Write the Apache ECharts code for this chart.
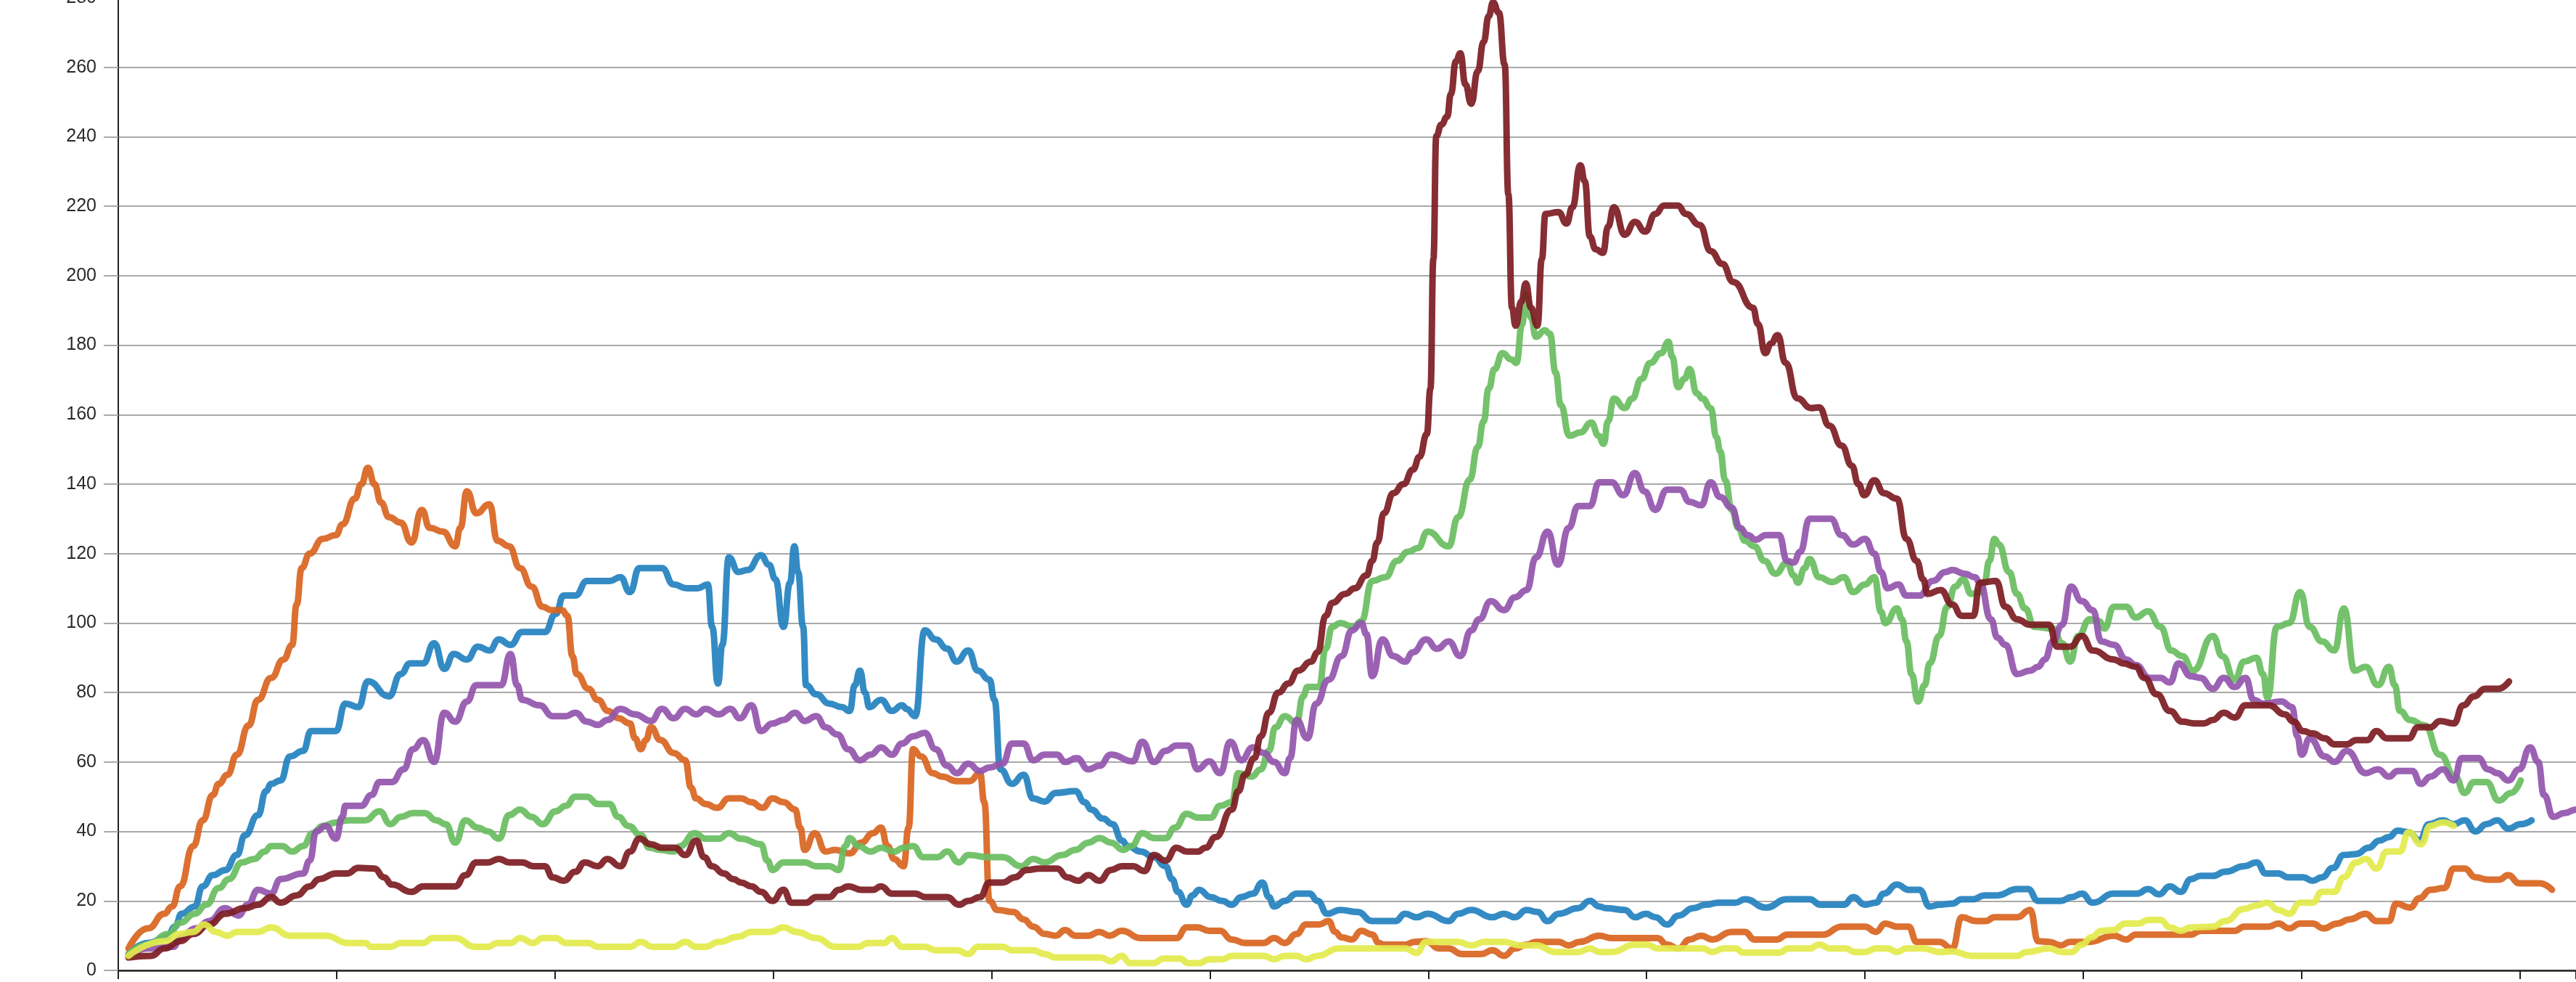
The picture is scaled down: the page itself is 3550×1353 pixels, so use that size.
<!DOCTYPE html>
<html>
<head>
<meta charset="utf-8">
<script src="https://cdn.jsdelivr.net/npm/echarts@6/dist/echarts.min.js"></script>
<style>
  html, body { margin: 0; padding: 0; background: #fff; }
  #chart { width: 3550px; height: 1353px; }
</style>
</head>
<body>
<div id="chart"></div>
<script>
// x = day, y = value; ticks every 30 days, y every 20
var xMax = 337.7;
var xStep = 30;
var yMax = 280;
var yStep = 20;

var orangeData = [[1.4,6.3],[4.1,12.1],[6.3,16.3],[7.4,18.4],[8.5,24.2],[10.3,35.8],[11.6,43.2],[13,50.5],[13.8,53.7],[15,56.3],[16.3,62.1],[17.9,70.5],[19.2,77.9],[21,84.2],[22.7,89.5],[23.9,93.7],[24.5,105.3],[25.2,115.8],[26.3,120],[28.1,124.2],[29.9,125.3],[30.8,128.4],[32.5,135.8],[33.4,140],[34.3,144.7],[35.2,140],[36.1,134.7],[37.2,130.5],[38.8,128.9],[40.3,123.2],[41.7,132.6],[42.8,127.4],[44.6,126.3],[46.3,122.1],[47,127.4],[47.9,137.9],[49.2,131.6],[51,134.2],[52.1,123.7],[53.7,122.1],[55.2,115.8],[56.8,110.5],[58.3,104.7],[59.5,103.7],[61,103.7],[61.7,102.1],[62.4,90.5],[63,85.3],[64.6,81.1],[65.9,77.9],[67.3,74.7],
  [68.7,72.6],[70.3,71.1],[71,66.8],[71.8,63.7],[72.5,66.3],[73.2,70],[74.5,66.3],[76.3,62.6],[77.9,60.5],[78.7,52.6],[79.4,49.5],[80.7,47.9],[82.3,46.8],[83.9,49.5],[85.6,49.5],[87,48.4],[88.5,46.8],[89.9,49.5],[91.4,48.4],[93,46.3],[93.7,41.1],[94.3,34.7],[95.7,39.5],[97.2,34.2],[98.5,34.7],[100.5,33.7],[102.1,36.8],[103.7,39.5],[104.8,41.1],[105.7,35.8],[106.6,32.1],[107.9,30],[108.6,41.1],[109.2,63.7],[110.3,61.6],[111.9,56.8],[113.2,55.8],[115.2,54.5],[117,54.5],[118.4,56.8],[119,48.4],[119.7,20],[120.8,17.4],[123,16.8],[124.4,14.7],[125.7,12.6],[127.3,10.5],[128.8,10],[130.1,11.6],[131.5,10],[133.3,10],[134.8,11.1],[136.2,10],
  [137.9,11.4],[140.5,9.3],[145.4,9.3],[146.8,12.4],[148.3,12.4],[149.9,11.4],[151.4,11.4],[153,8.9],[154.8,7.9],[157.4,7.9],[158.8,9.3],[160.3,7.9],[161.9,10.5],[163.2,13.2],[165,13.2],[166.3,14.2],[167.2,11.1],[168.1,9.5],[169.5,8.9],[170.8,11.4],[172.3,10.3],[173.2,7.9],[173.9,7.4],[176.8,7.4],[178.1,8.2],[179.7,8.4],[181.5,6.3],[182.8,6.3],[184.6,4.7],[187.3,4.7],[188.8,5.8],[190.4,4.2],[191.9,6.3],[193.5,7.4],[194.8,8.2],[197.9,8.2],[199.3,7.2],[200.8,8.2],[203.5,10],
  [205.2,9.3],[211.5,9.3],[212.8,7.4],[214.4,6.3],[215.9,8.9],[217.5,10],[219,8.9],[221.7,11.1],[223.5,11.1],[224.8,8.9],[227.9,8.9],[229.3,10.3],[234.2,10.3],[236.8,12.6],[240,12.6],[241.5,11.1],[242.8,13.5],[244.4,12.6],[246,12.6],[247.1,8.2],[250.2,8.2],[252,6.3],[253.3,15.3],[255.3,14.2],[256.6,14.2],[257.8,15.3],[260.9,15.3],[262.7,17.4],[263.8,8.4],[265.3,8.2],[266.9,7.2],[268.2,8.2],[270.7,8.2],
  [274.2,10],[275.9,8.9],[277.2,10.3],[284.8,10.3],[286.1,11.4],[290.8,11.4],[292.1,12.6],[295.5,12.6],[296.8,13.5],[298.3,12.1],[299.8,13.5],[301.5,13.5],[303,12.1],[304.9,13.5],[306.6,14.7],[308.8,16.3],[310.3,14.2],[312,14.2],[313,19.2],[314.9,18.1],[316.2,20.8],[317.7,23.2],[319.6,23.7],[320.9,29.3],[322.4,29.3],[323.9,26.8],[325.6,26.1],[327.1,26.1],[328.4,27.4],[329.9,25.1],[332.7,25.1],[334.4,23.2]];

var blueData = [[1.4,4.7],[4.1,7.9],[6.7,9.5],[7.8,12.6],[8.7,16.3],[10.5,18.4],[11.6,24.2],[13,27.4],[14.7,28.9],[16.3,33.2],[17.4,38.9],[19.2,44.7],[20.3,51.6],[21,53.7],[22.3,54.7],[23.6,61.6],[25.4,63.2],[26.5,68.9],[29.9,68.9],[31.2,76.8],[33,75.8],[34.3,83.2],[37.2,78.9],[38.8,85.3],[40.1,88.4],[41.9,88.4],[43.4,94.2],[44.8,86.8],[46.1,91.1],[47.9,89.5],[49.4,93.2],[51,92.1],[52.3,95.3],[53.9,93.7],[55.5,97.4],[58.6,97.4],[60.1,102.6],[61.2,107.9],[62.8,107.9],[64.4,112.1],[67.5,112.1],
  [69,113.2],[70.3,108.9],[71.6,115.8],[74.7,115.8],[76.3,111.1],[78.1,110],[79.6,110],[81,111.1],[81.6,98.9],[82.4,82.6],[83,93.7],[83.9,118.9],[85.2,114.7],[86.5,115.3],[88.3,119.5],[89.4,116.8],[90.3,112.6],[91.4,98.9],[92.3,111.6],[92.9,122.1],[93.4,114.7],[94.1,98.9],[94.5,82.1],[95.9,79.5],[97.7,76.8],[99.4,75.8],[100.5,74.7],[101.2,82.1],[101.9,86.3],[102.6,80],[103.2,75.8],[104.8,77.9],[106.3,74.7],[107.7,76.3],[108.3,75.3],[109.5,73.2],[110.8,97.9],[112.3,95.3],[113.9,92.6],[115.2,88.9],[116.8,92.1],[118.1,86.3],[119.7,83.7],[120.4,77.9],[121.2,57.9],[122.8,53.7],[124.4,56.3],[125.7,49.5],[127.3,48.6],[128.8,51.1],[131.5,51.6],[132.8,48.4],[133.7,46.3],[135.3,43.7],[136.6,42.1],
  [137.9,37.4],[138.7,35.8],[140.5,34.2],[142.3,32.6],[143.9,30],[144.8,26.3],[145.6,22.6],[146.8,18.9],[147.6,21.6],[148.5,23.2],[150.1,21.1],[151.7,20],[153,18.9],[154.3,21.1],[155.9,22.1],[157.2,25.3],[158.1,21.1],[158.8,18.4],[160.3,20],[161.9,22.1],[163.7,22.1],[164.8,20],[166.1,16.3],[167.9,17.4],[170.3,16.8],[172.3,14.2],[175.5,14.2],[176.8,16.3],[178.4,15.3],[179.9,16.3],[182.8,14.2],[184.1,16.3],[185.9,17.4],[188.8,15.3],[190.4,16.3],[191.9,15.3],[193.5,17.4],[195,16.8],[196.4,14.2],[197.9,16.3],[200.6,17.9],[202.2,20],[203.5,18.4],
  [204.4,17.9],[207,17.4],[208.4,15.3],[209.9,16.3],[211.2,15.3],[212.8,13.2],[214.4,15.8],[216.4,17.9],[218.1,18.9],[219.9,19.5],[222.2,19.5],[223.5,20.5],[226.4,18.1],[229.3,20.5],[232.4,20.5],[233.9,18.9],[237.1,18.9],[238.4,21.1],[240,18.9],[241.5,19.5],[242.6,22.1],[244.4,24.7],[246,23.2],[247.5,23.2],[248.9,18.4],[250.2,18.9],[252,19.2],[253.3,20.5],[254.9,20.5],[256.4,21.6],[258.2,21.6],[260.9,23.4],[262.4,23.4],[263.8,20],[266.9,20],[268.4,21.1],[269.8,22.1],[271.3,19.5],
  [274.2,22.1],[277.4,22.1],[278.9,23.4],[280.4,21.9],[281.9,24.2],[283.4,22.6],[284.8,26.3],[286.1,27.2],[287.8,27.2],[289.5,28.4],[292.1,30],[293.8,31.1],[295.1,27.9],[296.8,27.9],[298.1,26.8],[300.2,26.8],[301.5,25.8],[302.8,26.8],[304.3,29.5],[305.8,33.2],[307.5,33.5],[309.2,35.3],[310.7,37.4],[312,38.4],[313.2,40.2],[314.7,39.8],[316.2,37.4],[317.5,42.1],[319.4,43.2],[320.9,42.1],[322.4,43.2],[323.9,40],[325.4,42.1],[326.9,43.2],[328.4,40.8],[330.1,42.1],[331.6,43.2]];

var greenData = [[1.4,4.7],[4.1,7.4],[6.9,10.5],[8.5,13.7],[10.5,16.3],[12.1,18.9],[13.8,23.7],[15.2,26.3],[17,31.1],[18.7,32.1],[20.1,34.2],[21,35.8],[22.5,35.8],[23.9,34.2],[25.4,35.8],[26.7,39.5],[28.1,41.6],[29.9,42.6],[31.6,43.2],[33.9,43.2],[35.9,45.8],[37.4,42.1],[38.8,44.2],[40.5,45.3],[42.1,45.3],[43.7,43.2],[45,42.1],[46.3,36.8],[47.7,43.2],[49.4,41.1],[50.8,40],[52.3,37.9],[53.7,44.7],[55.2,46.3],[56.8,44.2],[58.3,42.1],[60.1,45.8],[61.5,47.4],[62.8,50],[64.4,50],[65.9,47.9],[67.5,47.9],
  [68.7,44.2],[70.1,41.6],[71.8,38.9],[73,35.3],[74.5,34.7],[76.3,34.2],[77.2,35.8],[79.2,39.5],[80.7,37.9],[82.5,37.9],[83.9,39.5],[85.6,37.9],[88.3,36.3],[89.2,31.6],[89.9,28.9],[91.4,31.1],[94.3,31.1],[95.9,30],[97.7,30],[99,28.9],[99.9,35.8],[100.5,38.1],[101.7,35.8],[103.4,34.2],[104.8,35.3],[106.6,34.2],[107.9,35.3],[109.2,35.8],[110.6,32.6],[112.6,32.6],[113.9,34.2],[115.5,31.1],[116.8,33.2],[119.7,32.6],[121.5,32.6],[124.1,30],[125.7,32.1],[127.3,31.1],[129.7,33.2],[131.5,34.7],[133.3,36.8],[134.8,38.1],[136.4,36.8],
  [138.1,34.7],[139.2,35.8],[140.7,39.5],[142.3,38.1],[143.9,38.1],[145.2,41.1],[146.8,45.1],[148.3,44],[150.1,44],[151.4,47.4],[153,48.4],[153.9,56.8],[155.7,55.8],[157,57.9],[158.1,63.2],[159,70],[160.3,73.2],[161.9,71.1],[162.8,78.9],[163.4,81.6],[165,81.6],[165.9,92.6],[166.8,98.9],[167.9,100],[169.7,98.9],[170.8,100.5],[172.3,112.1],[174.1,113.2],[175.7,117.9],[177.2,120.5],[178.6,121.6],[179.9,126.3],[182.8,122.1],[184.1,130.5],
  [185.7,141.3],[186.8,150.7],[187.6,158.1],[188.3,167.5],[189.1,173.1],[190.2,177.7],[191.4,175.9],[192.1,174.9],[192.9,186.1],[193.4,194.5],[194.1,188],[194.8,182.4],[196,184.3],[196.7,183.3],[197.5,172.1],[198.2,162.8],[199.4,153.9],[200.9,154.9],[202.4,157.7],[203.4,153.9],[204.1,151.6],[204.7,158.1],[205.5,164.6],[207,161.9],[208,164.6],[209.3,170.3],[210.5,174.9],[212,177.7],[213,181],[213.5,176.8],[214.3,167.9],[215.2,170.3],[215.9,173.1],[216.9,166.1],[217.7,164.6],[218.8,161.9],[219.6,153.5],
  [220.1,149.5],[220.8,141.1],[221.7,132.6],[222.6,127.4],[223.5,123.7],[224.8,122.1],[226.2,117.9],[227.7,114.2],[229.3,117.4],[230.2,113.7],[230.8,111.6],[231.7,115.8],[232.4,118.4],[233.7,113.2],[235.5,111.8],[237.1,113.2],[238.4,108.9],[240,111.1],[241.3,113.2],[242.2,103.2],[242.8,100],[244.4,104.2],[245.1,101.1],[245.7,94.7],[246.4,85.3],[247.3,77.4],[248.2,82.1],[248.9,88.4],[250.2,96.3],[251.3,104.7],[252.4,110.5],[253.5,112.6],[254.6,108.4],[255.8,108.9],[256.4,111.6],[257.1,117.9],[257.8,124.2],[258.4,122.6],[259.8,114.7],[260.9,108.4],[262,104.2],[263.3,98.9],[265.8,98.4],[267.1,94.2],[268.2,88.9],[269.3,96.3],[270.9,101.1],[272.2,100.5],
  [272.9,98.4],[274.2,104.7],[275.9,104.7],[277.2,101.6],[278.9,103.4],[280.6,98.9],[282.1,92.1],[283.6,90.5],[285.1,86.3],[287.8,96.3],[289.1,90.5],[290.8,83.7],[292.1,88.9],[293.8,90],[294.7,85.3],[295.3,78.4],[296.6,98.9],[298.3,100],[299.8,108.9],[301.1,98.9],[302.8,94.7],[304.5,92.1],[305.8,104.2],[307.3,86.3],[308.8,87.4],[310.5,82.1],[312,87.4],[312.8,82.1],[313.5,74.7],[314.9,72.1],[316.9,70.5],[319,62.1],[321.1,55.8],[322.4,51.1],[323.7,54.2],[325.4,54.2],[327.1,48.9],[328.8,51.1],[330.1,54.7]];

var purpleData = [[1.4,4.2],[4.1,6.3],[7.6,6.8],[8.5,9.5],[10.7,12.1],[12.5,14.2],[14.7,17.9],[16.5,15.8],[17.8,18.9],[19.2,23.2],[21,22.1],[22.3,26.3],[25.4,27.9],[26.3,31.6],[27.2,40],[28.5,41.6],[29.9,37.9],[30.8,44.2],[31.2,47.4],[33.4,47.4],[34.8,50.5],[35.9,54.2],[37.6,54.2],[39.2,57.9],[40.5,63.7],[41.9,66.3],[43.4,60],[44.8,74.2],[46.3,71.6],[47.9,77.4],[49.2,82.1],[52.6,82.1],[53.9,91.1],[54.8,82.1],[55.5,77.9],[57.9,76.3],[59.7,73.2],[61.5,73.2],[62.8,74.2],[64.4,71.6],[65.9,70.7],[67.2,72.1],
  [69,75.3],[71,73.7],[73.2,71.8],[74.7,75.3],[76.3,72.6],[77.9,75.3],[79.4,73.7],[80.7,75.3],[82.5,73.7],[84.1,75.3],[85.4,72.6],[87,76.3],[88.3,68.9],[89.9,71.1],[91.4,72.1],[93,74.2],[94.3,71.8],[95.9,73.2],[97.2,70],[98.8,67.9],[100.3,63.7],[101.9,60.5],[103.4,62.1],[104.8,64.2],[106.3,62.1],[107.7,65.3],[109.2,67.4],[110.8,68.4],[112.3,63.7],[113.9,58.9],[115.2,56.8],[116.8,59.5],[118.4,57.4],[119.7,58.4],[121.5,59.5],[122.8,65.3],[124.4,65.3],[125.7,60.5],[127.3,62.1],[129,62.1],[130.1,60],[131.7,61.1],[133.3,57.9],[134.8,58.9],[136.4,62.1],
  [139.4,60.2],[140.7,65.8],[142.3,60],[143.9,63.2],[145.4,64.7],[147,64.7],[148.3,57.9],[149.9,60.2],[151.4,56.8],[152.8,65.8],[154.3,60.5],[155.9,64.2],[157.4,62.6],[158.8,60],[160.3,56.8],[161,61.1],[161.9,72.1],[163.4,66.8],[164.6,76.8],[166.3,83.7],[168.1,90.5],[169.5,97.9],[170.8,100],[171.5,96.8],[172.3,84.7],[173.7,95.3],[175.2,90.5],[176.8,88.9],[177.9,91.6],[179.7,95.3],[181.2,92.6],[182.8,94.7],[184.4,90.5],[185.9,97.9],[187,101.1],[188.6,106.3],[190.4,103.7],[191.9,107.4],[193.5,109.5],[194.8,118.9],[196.4,126.3],[197.8,116.8],[199.3,127.4],[200.6,133.7],[202.2,133.7],[203.5,140.5],
  [205.2,140.5],[206.8,136.8],[208.4,143.2],[209.7,137.9],[211.2,132.6],[212.8,138.4],[214.6,138.4],[215.9,134.9],[217.5,133.9],[218.8,140.5],[220.1,136.3],[221.7,133.2],[222.8,127.4],[223.9,125.3],[225,124],[226.4,125.3],[228.2,125.3],[229.3,117.9],[230.2,117.4],[231.1,120.5],[232.4,130],[235.3,130],[236.8,125.3],[238.4,122.6],[240,124.2],[241.3,120],[242.2,114.7],[243.1,110],[244.6,111.1],[245.7,107.9],[247.5,107.9],[249.3,112.1],[251.1,114.7],[252,115.3],[253.7,114.2],[255.1,113.2],[255.8,111.6],[257.3,101.1],[258.2,95.8],[259.3,93.7],[260.9,85.3],[262.7,86.3],[263.8,87.4],[264.7,89.5],[265.8,94.7],[267.1,99.5],[268.3,110.5],[269.8,106.3],[271.3,103.7],
  [272.5,94.7],[274.2,93.7],[275.9,89.5],[277.2,87.9],[279.1,84.2],[280.6,84.2],[281.9,82.9],[283.1,88.4],[284.8,84.7],[286.1,84.2],[287.8,81.1],[289.3,84.2],[290.8,81.6],[292.3,84.2],[293.4,77.9],[294.7,76.8],[297.2,77.4],[298.7,75.8],[299.4,67.4],[300,62.1],[301.1,66.8],[303.2,61.6],[304.5,60],[306.2,63.2],[308.8,56.8],[310.5,57.9],[312,55.8],[313.2,57.4],[315.2,57.4],[316.4,53.7],[317.7,55.8],[319.4,57.9],[320.9,54.7],[322,61.1],[324.3,61.1],[325.6,57.9],[326.9,56.8],[328.4,54.7],[329.9,57.9],[331.4,64.2],[332.5,60],[333.3,50.5],[334.6,44.2],[336.1,45.3],[337.7,46.3],[339.5,47]];

var darkRedData = [[1.4,3.7],[4.5,4.2],[6.3,6.3],[8.5,8.4],[10.3,10.5],[12.5,13.2],[14.7,16.3],[17.4,17.9],[19.2,18.9],[21,21.1],[22.3,19.5],[24.5,21.6],[26.3,24.2],[27.6,26.3],[29.9,27.9],[31.4,27.9],[33,29.5],[35.2,29.3],[36.5,26.8],[37.6,24.7],[40.3,22.6],[41.9,24.2],[46.3,24.2],[47.7,27.4],[49.2,31.1],[50.8,31.1],[52.3,32.1],[53.7,31.1],[55.5,31.1],[57,30],[58.6,30],[59.7,26.8],[61.2,25.8],[62.8,28.4],[64.1,31.1],[65.9,30],[67.2,32.1],
  [69,30],[70.3,34.2],[71.6,37.9],[73.2,36.3],[74.7,35.3],[76.5,35.3],[77.9,33.2],[79.4,37.4],[80.5,32.6],[81.6,30],[83.2,27.9],[84.5,26.3],[85.6,25.3],[87,24.2],[88.3,22.6],[89.9,20],[91.4,23.2],[92.5,19.5],[94.5,19.5],[95.9,21.1],[97.7,21.1],[99,23.2],[100.3,24.2],[102.1,23.2],[103.7,23.2],[104.8,24.2],[106.3,22.1],[109.5,22.1],[110.9,21.1],[113.9,21.1],[115.5,18.9],[116.8,20],[118.4,21.1],[119.7,25.3],[121.5,25.3],[123.2,26.8],[124.8,28.9],[126.6,29.3],[129,29.3],[130.4,26.8],[131.9,25.8],[133.3,27.4],[134.8,25.8],[136.4,28.9],
  [137.9,30],[139.4,30],[141,28.6],[142.3,33.2],[143.9,31.6],[145.4,35.3],[146.8,34.2],[148.3,34.2],[149.4,35.3],[150.8,38.4],[153,46.3],[153.9,51.6],[154.8,56.3],[156.1,61.1],[157,67.4],[158.1,74.2],[159.4,80],[160.8,82.6],[162.1,86.3],[163.9,88.9],[164.8,91.6],[165.9,102.1],[166.8,105.8],[168.6,108.4],[169.9,110],[171.5,113.7],[172.3,117.9],[173,123.2],[173.9,131.6],[175.2,137.4],[176.6,140],[177.9,144.2],
  [178.8,147.9],[179.8,154.4],[180.3,167.5],[180.7,204.8],[181.1,240.2],[181.8,243.5],[182.6,245.8],[183.1,252.3],[183.8,261.7],[184.4,264],[185.1,255.1],[185.9,249.5],[186.8,258.9],[187.6,267.3],[188.3,274.7],[188.9,278.7],[189.7,275.7],[190.5,260.7],[191,223.4],[191.5,190.8],[192,185.6],[192.8,192.6],[193.4,197.8],[194.1,190.8],[195,185.6],[195.6,204.8],[196.1,217.8],[197.9,218.3],[199,215],[199.8,219.7],[200.9,231.8],[201.5,227.2],[202.2,211.3],[203,207.6],[204,206.6],[204.7,214.1],[205.5,219.7],[207,211.8],[208.4,215.5],[209.8,212.7],[211.2,217.8],[212.4,220.2],[214.3,220.2],[215.4,217.8],[217.3,214.6],[218.8,207.1],[220.4,203.4],[221.9,198.2],[224.6,190.8],[225.3,186.1],[226.3,177.7],[227.1,180.5],[228,182.9],[229.1,174.9],[230.7,164.7],[232.6,161.9],
  [233.7,162.1],[235.1,156.8],[236.8,151.1],[238.2,145.3],[239.1,140],[239.9,136.8],[241.3,141.1],[242.6,137.4],[244.4,135.8],[245.7,124.2],[247.1,117.9],[248,112.6],[248.6,108.4],[250.4,109.5],[252,105.3],[253.3,102.1],[254.9,102.1],[255.8,111.6],[258,112.1],[259.3,104.7],[260.9,101.1],[262.7,99.5],[265.3,99.5],[266.4,93.2],[268.2,93.2],[269.8,96.3],[271.3,92.1],
  [274.2,89.5],[275.5,88.4],[277.2,87.4],[278.4,84.2],[280.1,79.5],[281.9,74.7],[283.6,71.6],[285.3,71.1],[286.6,71.1],[287.8,72.1],[289.3,74.2],[290.8,72.8],[292.3,76.3],[295.5,76.3],[297.7,73.7],[298.9,71.6],[300.2,68.9],[301.5,68.2],[303.2,66.8],[304.5,65.1],[306.2,65.1],[307.5,66.3],[309,66.3],[310.3,68.9],[311.7,66.8],[314.7,66.8],[316,70],[317.7,70],[319,71.8],[320.9,71.1],[322.2,76.3],[323.7,78.9],[325.2,81.1],[327.1,81.1],[328.5,83.2]];

var yellowData = [[1.4,4.2],[6.3,8.4],[8.5,10.5],[10.3,11.1],[11.8,13.2],[13.4,11.1],[15,10],[16.3,11.1],[19.2,11.1],[21,12.4],[23.6,10],[28.5,10],[31.6,7.9],[33.9,7.9],[34.8,6.8],[37.4,6.8],[38.8,7.9],[41.9,7.9],[43.2,9.3],[46.3,9.3],[49,6.8],[50.8,6.8],[52.1,7.9],[53.9,7.9],[55.2,9.3],[57,7.9],[58.3,9.3],[60.1,9.3],[61.5,7.9],[64.6,7.9],[65.9,6.8],
  [70.3,6.8],[71.8,8.2],[73.4,6.8],[76.3,6.8],[77.9,8.2],[79.4,6.8],[80.7,6.8],[82.5,8.2],[85.2,9.7],[87,11.1],[89.6,11.1],[91.4,12.4],[93.2,11.1],[95.9,9.3],[98.5,6.8],[101.7,6.8],[103,7.9],[105.2,7.9],[106.3,9.3],[107.7,6.8],[110.8,6.8],[112.3,5.8],[115.2,5.8],[116.8,4.7],[118.1,6.8],[121.5,6.8],[122.8,5.8],[125.7,5.8],[127.3,4.7],[128.8,3.7],[135,3.7],[136.4,2.6],
  [137.9,4.2],[139,2.1],[142.3,2.1],[143.6,3.4],[145.9,3.4],[147,2.1],[148.5,2.1],[149.9,3.2],[151.7,3.2],[153,4.2],[157.4,4.2],[158.8,3.2],[160.3,4.2],[161.9,4.2],[163.2,3.2],[164.8,4.2],[167.7,6.3],[176.8,6.3],[178.4,5.1],[179.7,8.2],[184.1,8.2],[185.9,7.2],[187.7,8.2],[190.4,8.2],[192.6,7.2],[194.8,7.2],[197.5,5.3],[200.6,5.3],[202.2,6.3],[203.5,5.3],
  [205.2,5.3],[208.4,7.4],[210.1,7.4],[211.5,6.3],[217.7,6.3],[219,5.3],[220.6,6.3],[222.2,6.3],[223.3,5.1],[228.2,5.1],[229.5,6.3],[232.4,6.3],[233.7,7.4],[235.3,6.3],[237.3,6.3],[238.6,5.3],[240,5.3],[241.5,6.3],[243.1,6.3],[244.4,5.3],[245.7,6.3],[248,6.3],[250.2,5.3],[252,5.5],[254.6,4.2],[260.9,4.2],[262.2,5.3],[265.3,6.3],[267.1,5.3],[268.4,5.3],[269.8,7.4],[271.1,9.5],
  [272.5,11.4],[274.2,11.6],[275.7,13.5],[277.6,13.5],[278.9,14.5],[280.6,14.5],[281.9,12.4],[283.4,11.4],[284.8,12.4],[287.8,12.6],[289.5,14.2],[292.1,17.7],[293.8,18.7],[295.3,19.5],[296.8,17.4],[298.3,16.3],[299.8,19.5],[301.5,19.5],[302.8,22.6],[304.5,22.6],[305.8,26.8],[307.5,31.1],[308.8,32.1],[310.3,29.3],[311.7,34.2],[313.5,34.2],[314.7,39.8],[316.4,36.3],[317.7,41.6],[319.4,42.6],[320.9,41.6]];

var seriesList = [
  { name: 'blue', color: '#2381bf', data: blueData },
  { name: 'orange', color: '#d8641f', data: orangeData },
  { name: 'green', color: '#69bd61', data: greenData },
  { name: 'purple', color: '#9355ac', data: purpleData },
  { name: 'darkred', color: '#7c1c22', data: darkRedData },
  { name: 'yellow', color: '#e3ea4c', data: yellowData }
];

var myChart = echarts.init(document.getElementById('chart'), null, { renderer: 'canvas' });

var option = {
  animation: false,
  backgroundColor: '#ffffff',
  grid: { left: 163, right: 0, top: -3, bottom: 16, containLabel: false, outerBoundsMode: 'none' },
  xAxis: {
    type: 'value',
    min: 0,
    max: xMax,
    interval: xStep,
    axisLine: { show: true, lineStyle: { color: '#222', width: 2.5 } },
    axisTick: { show: true, inside: false, length: 12, lineStyle: { color: '#222', width: 2 } },
    axisLabel: { show: false },
    splitLine: { show: false }
  },
  yAxis: {
    type: 'value',
    min: 0,
    max: yMax,
    interval: yStep,
    axisLine: { show: true, lineStyle: { color: '#222', width: 2 } },
    axisTick: { show: true, length: 20, lineStyle: { color: '#a9a9a9', width: 2 } },
    axisLabel: {
      margin: 30,
      fontSize: 25,
      color: '#2a2a2a',
      fontFamily: 'Liberation Sans, Arial, sans-serif'
    },
    splitLine: { show: true, lineStyle: { color: '#a9a9a9', width: 2 } }
  },
  series: seriesList.map(function (s) {
    return {
      name: s.name,
      type: 'line',
      data: s.data,
      smooth: 0.5,
      smoothMonotone: 'x',
      showSymbol: false,
      symbol: 'none',
      lineStyle: { color: s.color, width: 9, opacity: 0.92, cap: 'round', join: 'round' },
      itemStyle: { color: s.color },
      emphasis: { disabled: true }
    };
  })
};

myChart.setOption(option);
</script>
</body>
</html>
